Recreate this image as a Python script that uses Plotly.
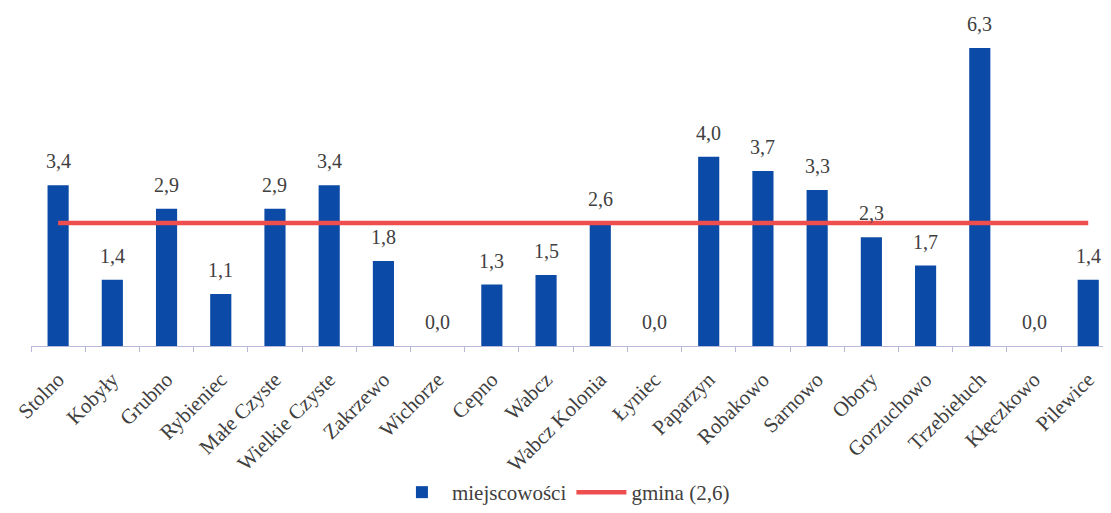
import plotly.graph_objects as go

categories = ["Stolno", "Kobyły", "Grubno", "Rybieniec", "Małe Czyste", "Wielkie Czyste",
              "Zakrzewo", "Wichorze", "Cepno", "Wabcz", "Wabcz Kolonia", "Łyniec",
              "Paparzyn", "Robakowo", "Sarnowo", "Obory", "Gorzuchowo", "Trzebiełuch",
              "Kłęczkowo", "Pilewice"]
values = [3.4, 1.4, 2.9, 1.1, 2.9, 3.4, 1.8, 0.0, 1.3, 1.5, 2.6, 0.0,
          4.0, 3.7, 3.3, 2.3, 1.7, 6.3, 0.0, 1.4]
gmina_value = 2.6
bar_name = "miejscowości"
line_name = "gmina (2,6)"

BLUE = "#0B4AA6"
RED = "#EF4E4E"
TXT = "#404040"
AX = "#B8B8DC"
FONT = "Liberation Serif"

fig = go.Figure()
fig.add_trace(go.Bar(x=categories, y=values, name=bar_name, marker_color=BLUE,
                     marker_line_width=0))
fig.add_trace(go.Scatter(x=categories, y=[gmina_value] * len(categories), name=line_name,
                         mode="lines", line=dict(color=RED, width=4.5)))

for c, v in zip(categories, values):
    fig.add_annotation(x=c, y=v, text=f"{v:.1f}".replace(".", ","), showarrow=False,
                       yanchor="bottom", yshift=11,
                       font=dict(family=FONT, size=20, color=TXT))

fig.update_layout(
    width=1103, height=505,
    margin=dict(l=23, r=0, t=7, b=167),
    paper_bgcolor="white", plot_bgcolor="white",
    bargap=0.61,
    showlegend=True,
    legend=dict(orientation="h", x=0.493, xanchor="center", y=-0.444, yanchor="middle",
                font=dict(family=FONT, size=21, color=TXT), itemwidth=50),
    font=dict(family=FONT, size=20, color=TXT),
)
fig.update_xaxes(range=[-0.5, 19.42], tickangle=-45, tickson="boundaries",
                 ticks="outside", ticklen=5, tickcolor=AX, showline=True, linecolor=AX,
                 linewidth=1, showgrid=False, zeroline=False, ticklabelstandoff=12,
                 tickfont=dict(family=FONT, size=21, color=TXT))
fig.update_yaxes(range=[0, 7], visible=False, showgrid=False, zeroline=False)

fig.write_html("out.html")
